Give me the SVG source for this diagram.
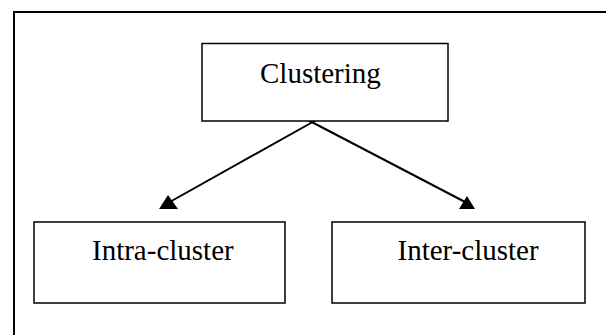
<svg xmlns="http://www.w3.org/2000/svg" width="606" height="335" viewBox="0 0 606 335">
  <style>
    .box { fill: #ffffff; stroke: #000000; stroke-width: 1.5; }
    .frame { fill: none; stroke: #000000; stroke-width: 2; }
    .lbl { font-family: "Liberation Serif", "Times New Roman", serif; font-size: 29px; fill: #000000; }
    .conn { stroke: #000000; stroke-width: 2; fill: none; }
    .head { fill: #000000; }
  </style>
  <rect width="606" height="335" fill="#ffffff"/>
  <rect class="frame" x="14" y="12" width="620" height="340"/>
  <g id="connectors">
    <line class="conn" x1="318" y1="119" x2="168" y2="203"/>
    <polygon class="head" points="159,209 168,195 178,209"/>
    <line class="conn" x1="306" y1="119" x2="467" y2="203"/>
    <polygon class="head" points="475,209 467,196 459,209"/>
  </g>
  <g id="clustering">
    <rect class="box" x="202" y="43.5" width="246" height="77.5"/>
    <text class="lbl" x="260" y="82.5">Clustering</text>
  </g>
  <g id="intra-cluster">
    <rect class="box" x="34" y="222" width="251" height="81"/>
    <text class="lbl" x="92" y="259.5">Intra-cluster</text>
  </g>
  <g id="inter-cluster">
    <rect class="box" x="332" y="222" width="253" height="81"/>
    <text class="lbl" x="397.5" y="259.5">Inter-cluster</text>
  </g>
</svg>
